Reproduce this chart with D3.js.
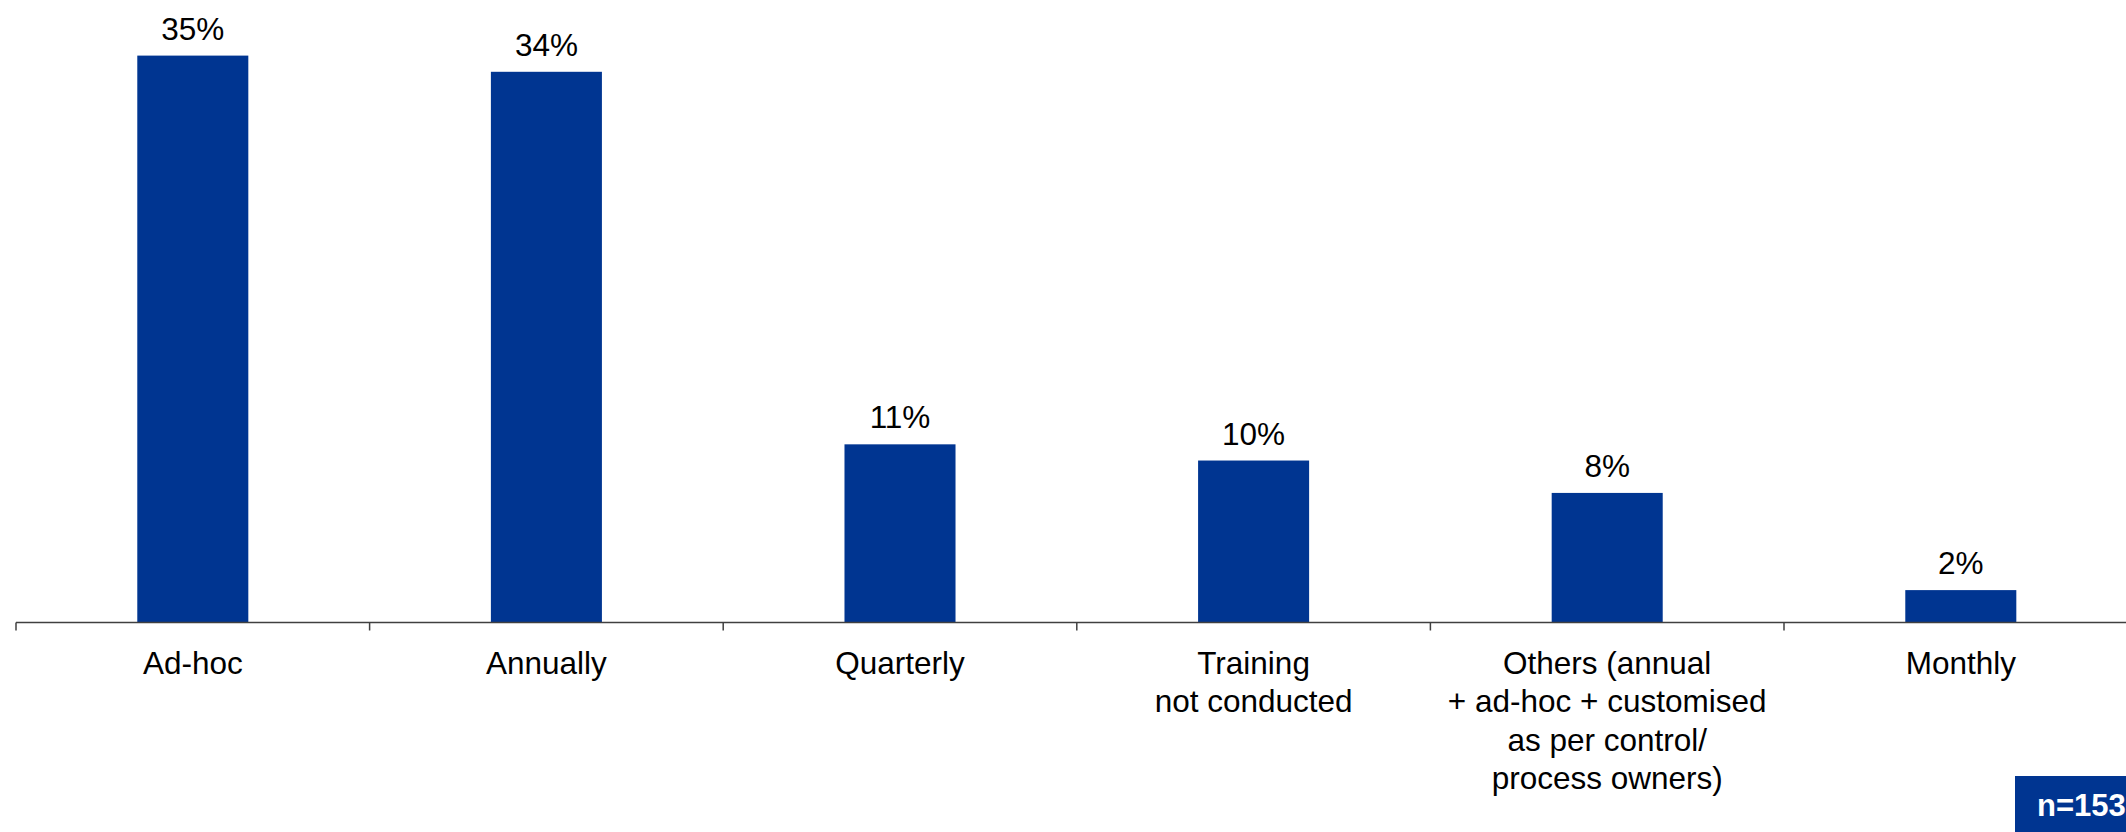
<!DOCTYPE html>
<html><head><meta charset="utf-8">
<script src="https://cdn.jsdelivr.net/npm/d3@7"></script>
<style>html,body{margin:0;padding:0;background:#fff;}svg{display:block;font-family:Arial,"Liberation Sans",sans-serif;}</style>
</head><body>
<svg id="c" width="2126" height="832"></svg>
<script>
const categories = ["Ad-hoc","Annually","Quarterly","Training\nnot conducted","Others (annual\n+ ad-hoc + customised\nas per control/\nprocess owners)","Monthly"];
const values = [35,34,11,10,8,2];
const valueLabels = ["35%","34%","11%","10%","8%","2%"];
const sampleNote = "n=153";

const svg = d3.select("#c");
const axisY = 622.5, x0 = 16, bandW = 353.6;
const x = d3.scaleBand().domain(categories).range([x0, x0 + bandW*categories.length]).paddingInner(0.686).paddingOuter(0.343);
const y = d3.scaleLinear().domain([0, 35]).range([axisY, 55.6]);
const blue = "#003591";

svg.selectAll("rect.bar").data(values).join("rect").attr("class","bar")
  .attr("x",(d,i)=>x(categories[i])).attr("width",x.bandwidth())
  .attr("y",d=>y(d)).attr("height",d=>axisY-y(d)).attr("fill",blue);

svg.selectAll("text.val").data(values).join("text").attr("class","val")
  .attr("x",(d,i)=>x(categories[i])+x.bandwidth()/2).attr("y",d=>y(d)-16)
  .attr("text-anchor","middle").attr("font-size",31.5).attr("fill","#000")
  .text((d,i)=>valueLabels[i]);

// axis line and ticks
const tickPos = d3.range(categories.length+1).map(i=>x0+i*bandW);
svg.append("line").attr("x1",x0).attr("x2",2126).attr("y1",axisY).attr("y2",axisY).attr("stroke","#404040").attr("stroke-width",1.5);
svg.selectAll("line.tick").data(tickPos).join("line").attr("class","tick")
  .attr("x1",d=>d).attr("x2",d=>d).attr("y1",axisY).attr("y2",axisY+8).attr("stroke","#404040").attr("stroke-width",1.5);

const lab = svg.selectAll("text.cat").data(categories).join("text").attr("class","cat")
  .attr("text-anchor","middle").attr("font-size",31.5).attr("fill","#000");
lab.each(function(d){
  const t = d3.select(this); const cx = x(d)+x.bandwidth()/2;
  d.split("\n").forEach((ln,j)=>t.append("tspan").attr("x",cx).attr("y",674+j*38.4).text(ln));
});

svg.append("rect").attr("x",2015).attr("y",776).attr("width",130).attr("height",60).attr("fill",blue);
svg.append("text").attr("x",2037).attr("y",816).attr("font-size",31).attr("font-weight","bold").attr("fill","#fff").text(sampleNote);
</script>
</body></html>
